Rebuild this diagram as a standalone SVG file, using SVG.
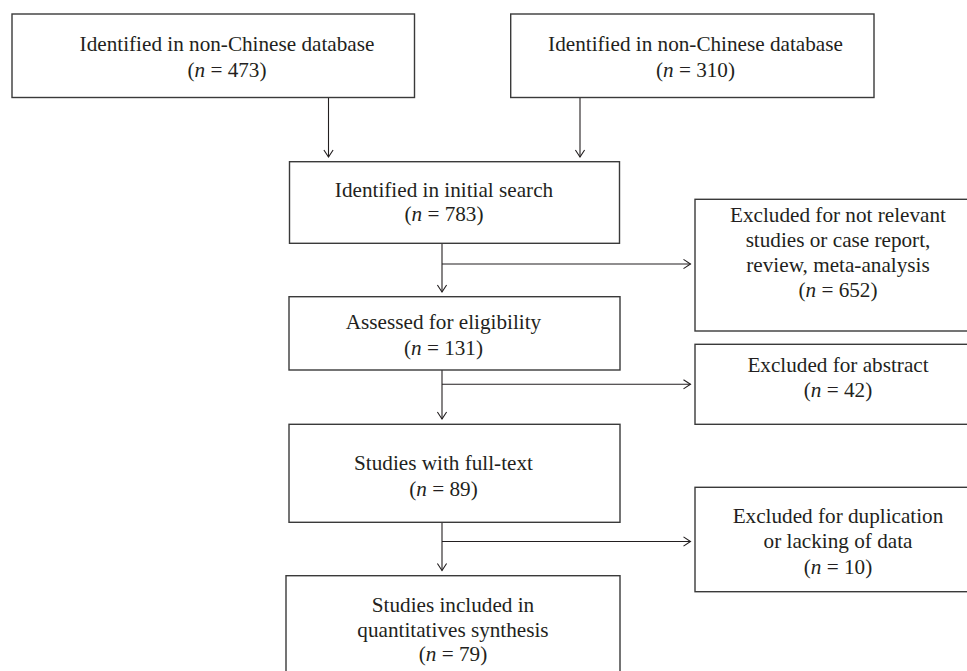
<svg xmlns="http://www.w3.org/2000/svg" width="967" height="671" viewBox="0 0 967 671">
<defs>
<style>
.box{fill:#fff;stroke:#3a3a3a;stroke-width:1.4}
.t{font-family:"Liberation Serif","Times New Roman",serif;font-size:21.2px;fill:#231f20;text-anchor:middle}
.i{font-style:italic}
.c{fill:none;stroke:#231f20;stroke-width:1.1}
</style>
<marker id="ah" markerUnits="userSpaceOnUse" markerWidth="12" markerHeight="12" viewBox="-8 -6 10 12" refX="0" refY="0" orient="auto">
<path d="M-7,-4.6 L0,0 L-7,4.6" fill="none" stroke="#231f20" stroke-width="1.1"/>
</marker>
</defs>
<rect width="967" height="671" fill="#fff"/>
<g id="connectors">
<line class="c" x1="328.5" y1="97.5" x2="328.5" y2="157" marker-end="url(#ah)"/>
<line class="c" x1="580" y1="97.5" x2="580" y2="157" marker-end="url(#ah)"/>
<line class="c" x1="442" y1="243.3" x2="442" y2="292" marker-end="url(#ah)"/>
<line class="c" x1="442" y1="264" x2="690.5" y2="264" marker-end="url(#ah)"/>
<line class="c" x1="442" y1="370" x2="442" y2="419" marker-end="url(#ah)"/>
<line class="c" x1="442" y1="384.3" x2="690.5" y2="384.3" marker-end="url(#ah)"/>
<line class="c" x1="442" y1="522.3" x2="442" y2="570.5" marker-end="url(#ah)"/>
<line class="c" x1="442" y1="541.5" x2="690.5" y2="541.5" marker-end="url(#ah)"/>
</g>
<g id="n1">
<rect class="box" x="12" y="14" width="402.5" height="83.5"/>
<text class="t" x="227" y="50.7">Identified in non-Chinese database</text>
<text class="t" x="227" y="77">(<tspan class="i">n</tspan> = 473)</text>
</g>
<g id="n2">
<rect class="box" x="510.7" y="14" width="363.3" height="83.5"/>
<text class="t" x="695.5" y="50.7">Identified in non-Chinese database</text>
<text class="t" x="695.5" y="77">(<tspan class="i">n</tspan> = 310)</text>
</g>
<g id="n3">
<rect class="box" x="289.5" y="161.7" width="330" height="81.6"/>
<text class="t" x="444" y="196.7">Identified in initial search</text>
<text class="t" x="444" y="220.7">(<tspan class="i">n</tspan> = 783)</text>
</g>
<g id="n4">
<rect class="box" x="289" y="296.7" width="331" height="73.3"/>
<text class="t" x="443.5" y="329.3">Assessed for eligibility</text>
<text class="t" x="443.5" y="355">(<tspan class="i">n</tspan> = 131)</text>
</g>
<g id="n5">
<rect class="box" x="289" y="424.3" width="331" height="98"/>
<text class="t" x="443.5" y="470">Studies with full-text</text>
<text class="t" x="443.5" y="496">(<tspan class="i">n</tspan> = 89)</text>
</g>
<g id="n6">
<rect class="box" x="286" y="575.7" width="334" height="110"/>
<text class="t" x="453" y="611.7">Studies included in</text>
<text class="t" x="453" y="636.5">quantitatives synthesis</text>
<text class="t" x="453" y="660.5">(<tspan class="i">n</tspan> = 79)</text>
</g>
<g id="e1">
<rect class="box" x="695" y="199.3" width="290" height="131.7"/>
<text class="t" x="838" y="222">Excluded for not relevant</text>
<text class="t" x="838" y="247">studies or case report,</text>
<text class="t" x="838" y="272">review, meta-analysis</text>
<text class="t" x="838" y="297.3">(<tspan class="i">n</tspan> = 652)</text>
</g>
<g id="e2">
<rect class="box" x="695" y="344.3" width="290" height="80"/>
<text class="t" x="838" y="371.7">Excluded for abstract</text>
<text class="t" x="838" y="396.7">(<tspan class="i">n</tspan> = 42)</text>
</g>
<g id="e3">
<rect class="box" x="695" y="487.3" width="290" height="104.4"/>
<text class="t" x="838" y="523.3">Excluded for duplication</text>
<text class="t" x="838" y="548">or lacking of data</text>
<text class="t" x="838" y="573.5">(<tspan class="i">n</tspan> = 10)</text>
</g>
</svg>
